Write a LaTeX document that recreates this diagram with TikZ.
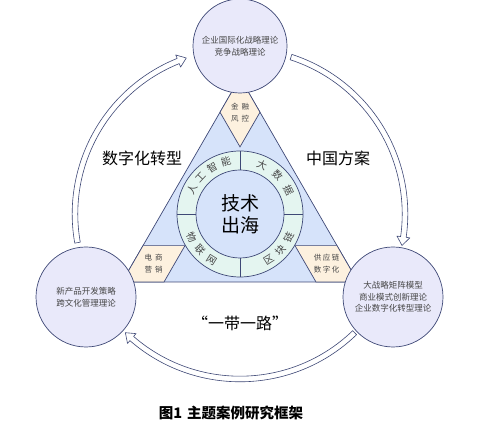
\documentclass[tikz,border=0pt]{standalone}
\usepackage{fontspec}
\newfontfamily\cjk{Noto Sans CJK SC}
\usepackage{xcolor}
\definecolor{ink}{RGB}{62,72,118}
\definecolor{lilac}{RGB}{233,233,250}
\definecolor{skyfill}{RGB}{214,227,250}
\definecolor{mint}{RGB}{228,245,240}
\definecolor{peach}{RGB}{253,241,223}
\definecolor{coal}{RGB}{70,70,70}
\usetikzlibrary{calc}
\tikzset{
  theory/.style={circle, draw=ink, fill=lilac, line width=0.7pt, inner sep=0pt,
    align=center, text=coal, font=\cjk\fontsize{8.5}{11.7}\selectfont},
  hub/.style={circle, draw=ink, fill=skyfill, line width=0.7pt, inner sep=0pt,
    minimum size=88pt, align=center, font=\cjk\fontsize{19}{22}\selectfont},
  ringbox/.style={circle, draw=ink, fill=mint, line width=0.7pt, inner sep=0pt,
    minimum size=126pt},
  ringtxt/.style={inner sep=0pt, text=coal, font=\cjk\fontsize{10}{10}\selectfont},
  cornertxt/.style={align=center, inner sep=0pt, text=coal,
    font=\cjk\fontsize{7.5}{12}\selectfont},
  theme/.style={inner sep=1pt, font=\cjk\fontsize{16}{18}\selectfont},
  band/.style={draw=ink, fill=white, line width=0.6pt, line join=round},
}
% hollow curved arrow round the hub: start angle, tip angle (clockwise)
\newcommand{\hollowarc}[2]{%
  \pgfmathsetmacro\hb{#2+(#1>#2?3:-3)}%
  \filldraw[band] ([shift={(#1:167.8)}]core.center)
    arc[start angle=#1, end angle=\hb, radius=167.8]
    -- ([shift={(\hb:171.5)}]core.center)
    -- ([shift={(#2:165)}]core.center)
    -- ([shift={(\hb:158.5)}]core.center)
    -- ([shift={(\hb:162.2)}]core.center)
    arc[start angle=\hb, end angle=#1, radius=162.2] -- cycle;}

\begin{document}
\begin{tikzpicture}[x=1pt,y=1pt]
\useasboundingbox (0,0) rectangle (478,446);

% triangle and its corners
\coordinate (apex) at (240,368.4);
\coordinate (bl) at (122,164);
\coordinate (br) at (358,164);
\filldraw[draw=ink, fill=skyfill, line width=0.7pt, line join=round] (apex) -- (bl) -- (br) -- cycle;

\coordinate (tA) at ($(apex)!40pt!(bl)$);
\coordinate (tB) at ($(apex)!40pt!(br)$);
\coordinate (tC) at ($(tA)+(tB)-(apex)$);
\coordinate (lA) at ($(bl)!42pt!(br)$);
\coordinate (lB) at ($(bl)!42pt!(apex)$);
\coordinate (lC) at ($(lA)+(lB)-(bl)$);
\coordinate (rA) at ($(br)!42pt!(bl)$);
\coordinate (rB) at ($(br)!42pt!(apex)$);
\coordinate (rC) at ($(rA)+(rB)-(br)$);
\filldraw[draw=ink, fill=peach, line width=0.7pt] (apex) -- (tA) -- (tC) -- (tB) -- cycle;
\filldraw[draw=ink, fill=peach, line width=0.7pt] (bl) -- (lA) -- (lC) -- (lB) -- cycle;
\filldraw[draw=ink, fill=peach, line width=0.7pt] (br) -- (rA) -- (rC) -- (rB) -- cycle;
\node[cornertxt] (risk) at ($(apex)!0.5!(tC)$) {金\hspace{3pt}融\\风\hspace{3pt}控};
\node[cornertxt] (ecom) at ($(bl)!0.5!(lC)$) {电\hspace{3pt}商\\营\hspace{3pt}销};
\node[cornertxt] (chain) at ($(br)!0.5!(rC)$) {供\hspace{1.5pt}应\hspace{1.5pt}链\\数\hspace{1.5pt}字\hspace{1.5pt}化};

% ring and hub
\node[ringbox] (ring) at (240,232) {};
\node[hub] (core) at (240,232) {技术\\出海};
\foreach \ang in {0,90,180,270}
  \draw[ink, line width=0.7pt] (core.\ang) -- (ring.\ang);
\foreach \ch/\ang in {人/153,工/137,智/121,能/105,大/66,数/46,据/26}
  \node[ringtxt, rotate=\ang-90] at ([shift={(\ang:54)}]core.center) {\ch};
\foreach \ch/\ang in {物/206,联/222,网/238,区/302,块/318,链/334}
  \node[ringtxt, rotate=\ang+90] at ([shift={(\ang:54)}]core.center) {\ch};

% theory circles
\node[theory, minimum size=94pt] (global) at (240,400) {企业国际化战略理论\\竞争战略理论};
\node[theory, minimum size=100pt] (product) at (86,149) {新产品开发策略\\跨文化管理理论};
\node[theory, minimum size=100pt] (strategy) at (393,149) {大战略矩阵模型\\商业模式创新理论\\企业数字化转型理论};

% arrows
\hollowarc{190}{109}
\hollowarc{72}{-11}
\hollowarc{-46}{-134}

% themes
\node[theme] (digital) at (142,288) {数字化转型};
\node[theme] (china) at (338,288) {中国方案};
\node[theme] (belt) at (240,123) {“一带一路”};

\node[font=\cjk\bfseries\fontsize{14.5}{16}\selectfont] (cap) at (231,33) {图1\hspace{5pt}主题案例研究框架};
\end{tikzpicture}
\end{document}
